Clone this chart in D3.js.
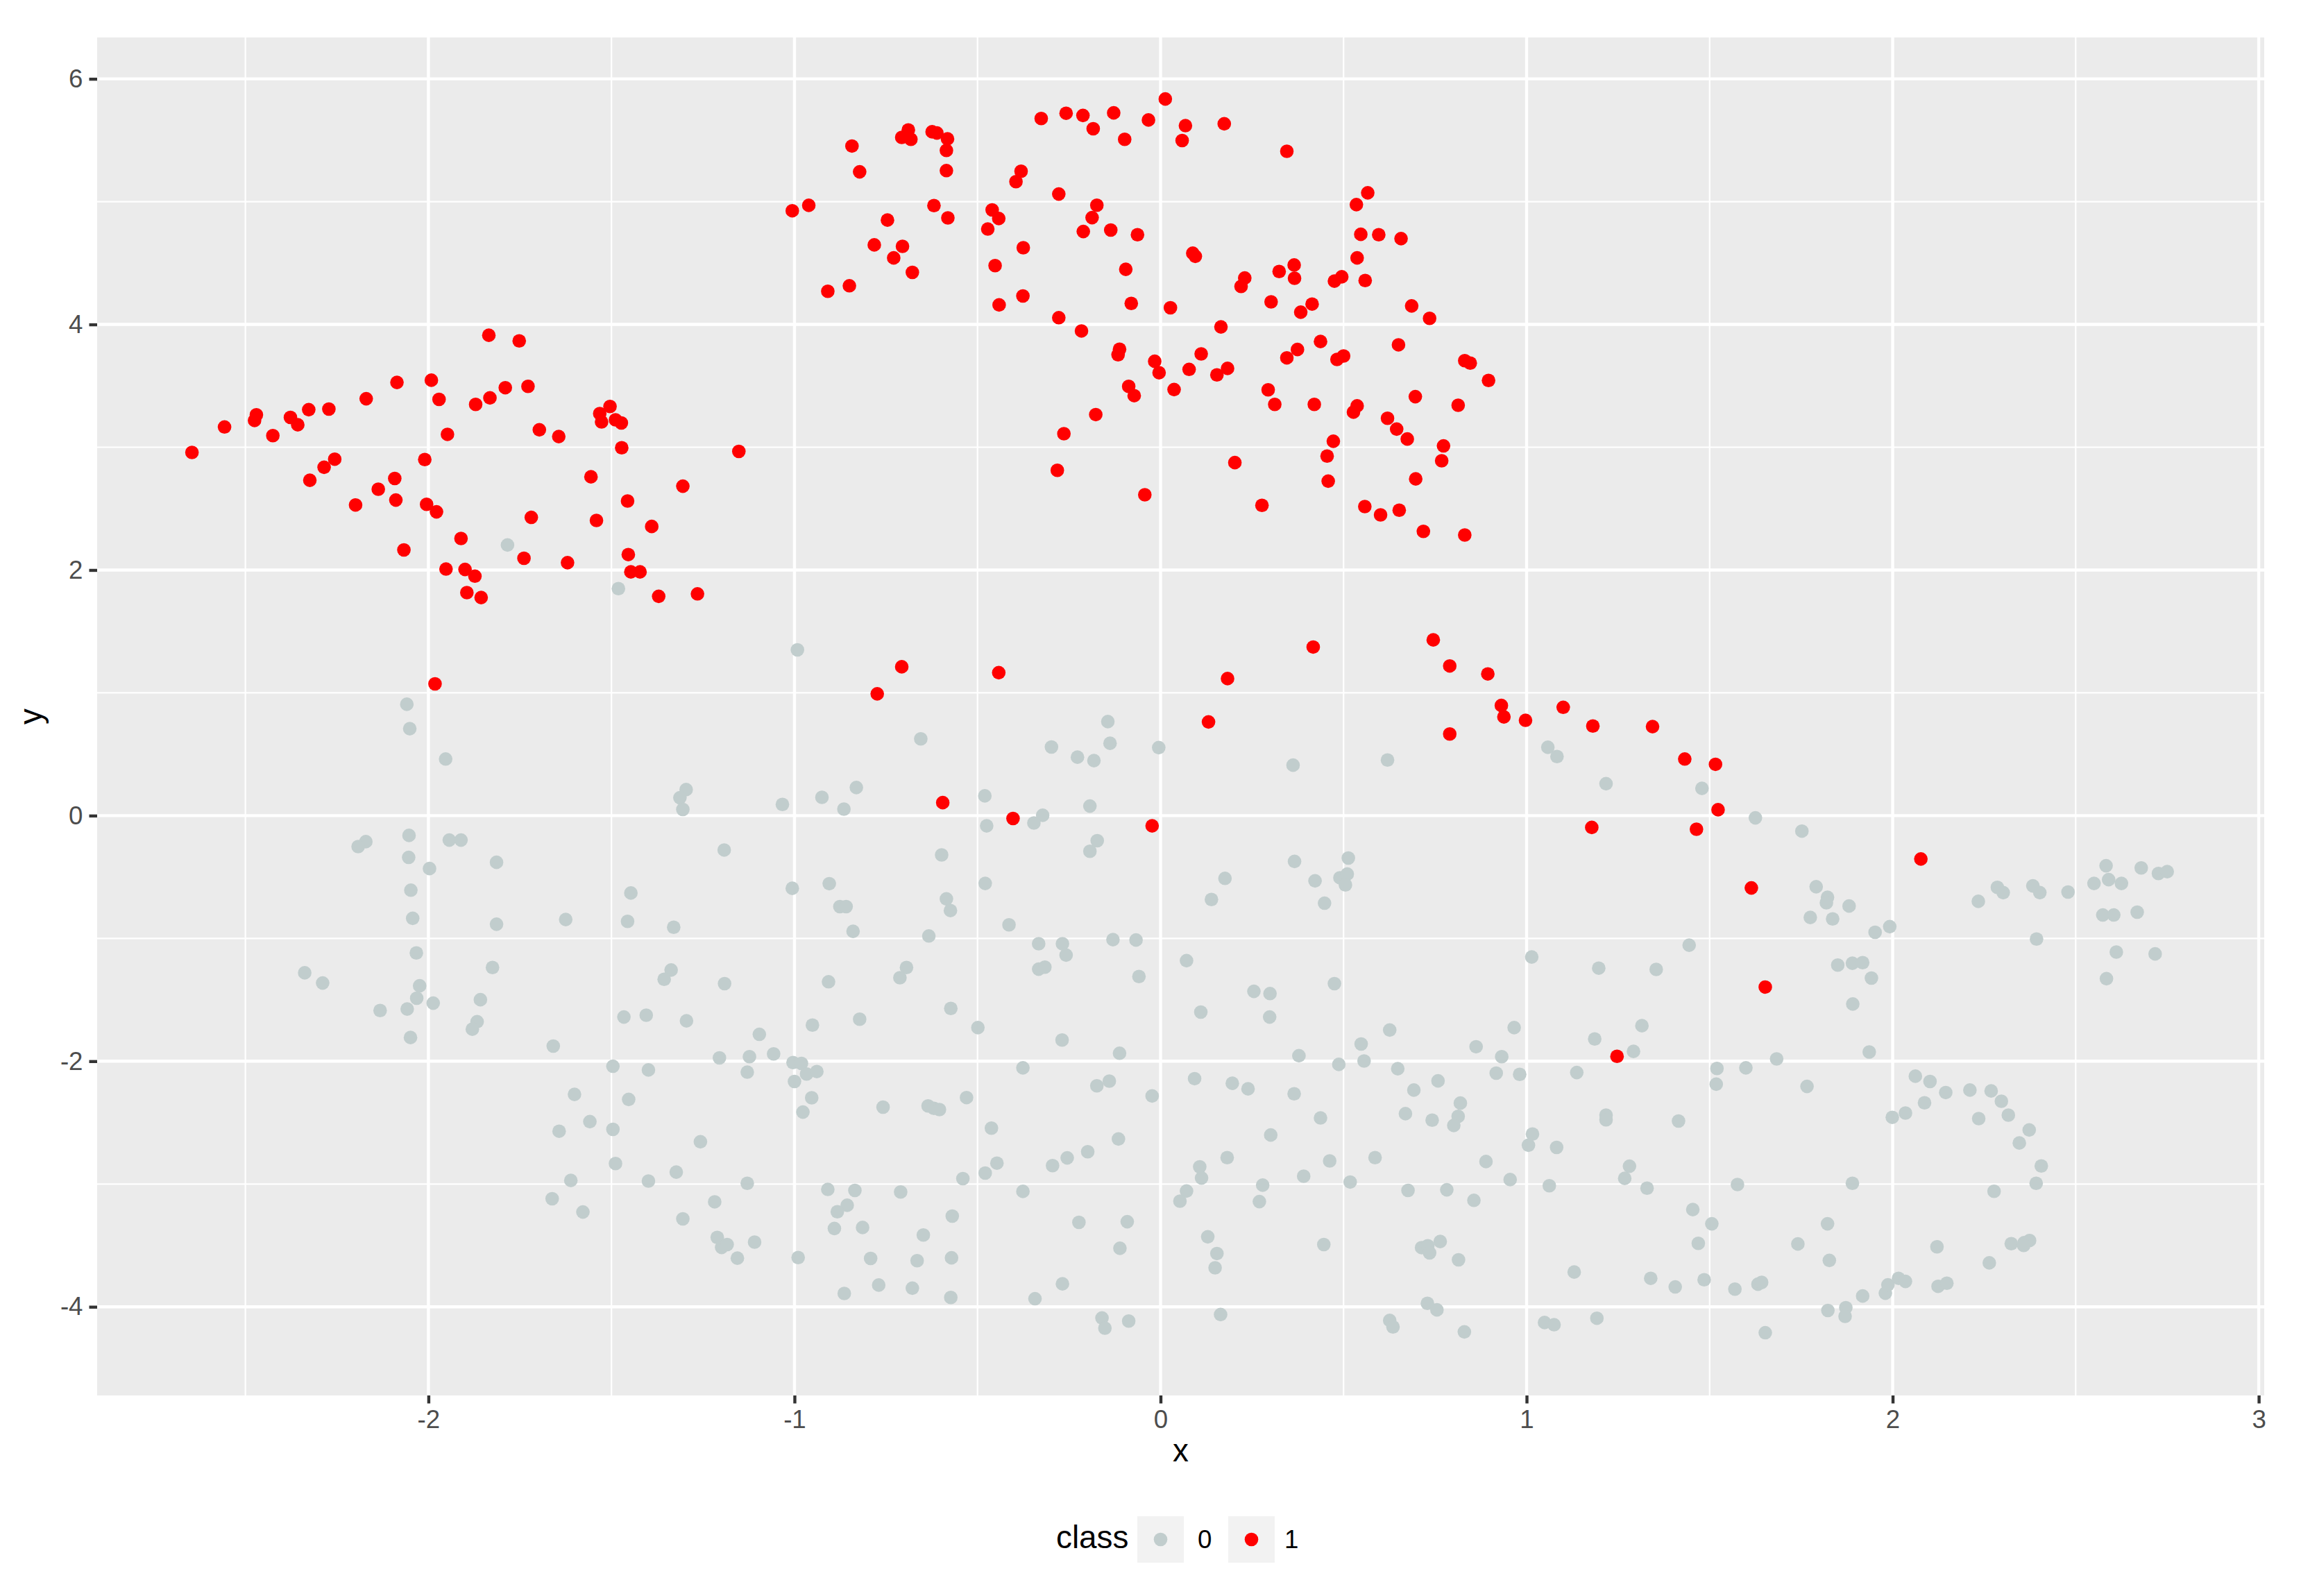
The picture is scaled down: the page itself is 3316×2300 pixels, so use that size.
<!DOCTYPE html>
<html><head><meta charset="utf-8">
<script src="https://cdn.jsdelivr.net/npm/d3@7"></script>
<style>html,body{margin:0;padding:0;background:#fff;} svg{display:block;font-family:"Liberation Sans",Arial,Helvetica,sans-serif;}</style>
</head><body><svg id="chart" width="3316" height="2300"></svg>
<script>
// ---- data ----
const xTicks = [-2, -1, 0, 1, 2, 3];
const yTicks = [-4, -2, 0, 2, 4, 6];
const xMinorTicks = [-2.5, -1.5, -0.5, 0.5, 1.5, 2.5];
const yMinorTicks = [-3, -1, 1, 3, 5];
const classes = ["0", "1"];
const classColors = ["#C1CDCD", "#FF0000"];

const class0Points = [
[-1.784,2.204],[-1.481,1.849],[-0.992,1.35],[-2.059,0.907],[-2.051,0.708],[-1.953,0.461],[-1.296,0.212],[-1.313,0.146],[-1.305,0.05],[-1.033,0.091],[-0.925,0.149],[-2.053,-0.161],[-2.171,-0.212],[-2.192,-0.252],[-1.943,-0.199],[-1.911,-0.199],[-2.054,-0.34],[-1.997,-0.431],[-1.814,-0.38],[-1.192,-0.28],[-2.048,-0.607],[-1.447,-0.63],[-1.006,-0.592],[-2.043,-0.836],[-1.814,-0.884],[-1.625,-0.846],[-1.456,-0.861],[-1.33,-0.909],
[-2.033,-1.118],[-1.825,-1.237],[-2.338,-1.28],[-2.289,-1.363],[-1.337,-1.257],[-1.356,-1.333],[-1.191,-1.368],[-2.024,-1.386],[-2.032,-1.487],[-1.987,-1.527],[-2.132,-1.587],[-2.058,-1.575],[-1.858,-1.499],[-1.867,-1.678],[-1.88,-1.739],[-2.049,-1.807],[-1.466,-1.64],[-1.405,-1.625],[-1.295,-1.671],[-0.951,-1.706],[-1.096,-1.781],[-1.659,-1.877],[-1.496,-2.041],[-1.399,-2.071],[-1.205,-1.973],[-1.123,-1.963],[-1.057,-1.94],[-1.129,-2.089],[-1.004,-2.011],[-0.981,-2.018],[-0.967,-2.104],[-0.939,-2.084],[-1.0,-2.165],[-1.601,-2.27],[-1.453,-2.311],[-0.953,-2.298],[-0.977,-2.414],[-1.559,-2.492],[-1.643,-2.57],[-1.496,-2.555],[-1.257,-2.656],[-1.489,-2.833],[-1.323,-2.903],[-1.611,-2.971],[-1.399,-2.976],[-1.129,-2.994],[-1.662,-3.12],[-1.578,-3.228],[-1.218,-3.145],[-1.305,-3.284],[-1.211,-3.435],[-1.199,-3.516],[-1.184,-3.493],[-1.109,-3.473],[-1.156,-3.604],[-0.99,-3.599],
[-0.144,0.766],[-0.655,0.625],[-0.298,0.559],[-0.138,0.589],[-0.005,0.554],[-0.227,0.476],[-0.182,0.448],[0.362,0.411],[0.62,0.453],[1.058,0.557],[1.083,0.481],[-0.831,0.229],[-0.865,0.053],[-0.48,0.161],[-0.193,0.078],[-0.322,0.003],[-0.346,-0.06],[-0.475,-0.083],[-0.173,-0.204],[-0.193,-0.29],[-0.598,-0.32],[-0.905,-0.554],[-0.479,-0.552],[-0.585,-0.678],[-0.574,-0.773],[-0.876,-0.741],[-0.859,-0.741],[-0.84,-0.942],[-0.633,-0.98],[-0.414,-0.889],[-0.333,-1.043],[-0.268,-1.043],[-0.258,-1.136],[-0.13,-1.01],[-0.067,-1.013],[0.071,-1.181],[0.366,-0.373],[0.513,-0.345],[0.176,-0.511],[0.422,-0.531],[0.49,-0.506],[0.51,-0.476],[0.505,-0.564],[0.139,-0.683],[0.448,-0.713],[1.014,-1.151],
[-0.694,-1.237],[-0.712,-1.32],[-0.907,-1.353],[-0.333,-1.25],[-0.316,-1.234],[-0.059,-1.31],[-0.573,-1.57],[-0.822,-1.658],[-0.499,-1.726],[-0.269,-1.827],[-0.112,-1.935],[0.255,-1.431],[0.299,-1.449],[0.11,-1.6],[0.298,-1.64],[0.475,-1.368],[0.626,-1.746],[0.548,-1.86],[0.556,-1.998],[0.378,-1.955],[0.487,-2.026],[0.648,-2.061],[0.966,-1.726],[0.862,-1.882],[0.932,-1.963],[0.917,-2.097],[0.981,-2.107],[-0.376,-2.054],[-0.758,-2.374],[-0.635,-2.364],[-0.619,-2.384],[-0.604,-2.394],[-0.53,-2.296],[-0.174,-2.2],[-0.14,-2.162],[-0.023,-2.283],[0.093,-2.142],[0.196,-2.18],[0.239,-2.225],[0.365,-2.265],[0.437,-2.462],[0.692,-2.235],[0.758,-2.16],[0.819,-2.341],[0.669,-2.427],[0.742,-2.48],[0.813,-2.449],[0.801,-2.523],[0.301,-2.601],[1.016,-2.593],[1.005,-2.684],[-0.462,-2.545],[-0.115,-2.633],[-0.199,-2.737],[-0.255,-2.787],[-0.295,-2.85],[-0.447,-2.83],[-0.479,-2.911],[-0.54,-2.956],[0.182,-2.785],[0.107,-2.86],[0.112,-2.951],[0.462,-2.812],[0.586,-2.785],[0.391,-2.936],[0.518,-2.984],[0.889,-2.817],[0.955,-2.964],[-0.909,-3.044],[-0.835,-3.052],[-0.71,-3.065],[-0.856,-3.173],[-0.883,-3.226],[-0.376,-3.06],[0.071,-3.057],[0.053,-3.14],[0.279,-3.009],[0.27,-3.143],[0.676,-3.052],[0.782,-3.047],[0.856,-3.133],[-0.569,-3.261],[-0.891,-3.362],[-0.814,-3.354],[-0.648,-3.415],[-0.223,-3.312],[-0.091,-3.307],[-0.111,-3.523],[0.129,-3.43],[0.154,-3.566],[0.149,-3.682],[0.446,-3.493],[0.713,-3.518],[0.73,-3.503],[0.735,-3.561],[0.764,-3.468],[0.814,-3.617],[-0.792,-3.606],[-0.665,-3.624],[-0.571,-3.601],[-0.864,-3.891],[-0.77,-3.823],[-0.678,-3.848],[-0.573,-3.924],[-0.268,-3.813],[-0.343,-3.934],[-0.16,-4.091],[-0.152,-4.174],[-0.087,-4.116],[0.164,-4.063],[0.729,-3.972],[0.755,-4.025],[0.626,-4.111],[0.635,-4.164],[0.83,-4.204],
[1.217,0.26],[1.479,0.222],[1.625,-0.018],[1.752,-0.126],[1.791,-0.579],[1.822,-0.665],[1.819,-0.71],[1.881,-0.736],[1.775,-0.829],[1.836,-0.841],[1.952,-0.95],[1.992,-0.904],[2.234,-0.698],[2.286,-0.584],[2.302,-0.627],[2.383,-0.572],[2.402,-0.627],[2.479,-0.622],[2.55,-0.552],[2.583,-0.408],[2.59,-0.521],[2.625,-0.552],[2.679,-0.426],[2.726,-0.471],[2.75,-0.456],[2.574,-0.809],[2.604,-0.809],[2.668,-0.786],[2.393,-1.005],[1.444,-1.055],
[2.611,-1.111],[2.717,-1.126],[1.197,-1.242],[1.354,-1.252],[1.85,-1.217],[1.89,-1.202],[1.918,-1.197],[1.942,-1.323],[2.584,-1.328],[1.891,-1.534],[1.315,-1.711],[1.186,-1.819],[1.292,-1.92],[1.936,-1.925],[1.683,-1.981],[1.137,-2.092],[1.52,-2.059],[1.518,-2.187],[1.599,-2.054],[1.766,-2.205],[1.217,-2.439],[1.217,-2.477],[1.415,-2.487],[2.062,-2.122],[2.102,-2.165],[2.145,-2.255],[2.211,-2.235],[2.269,-2.242],[2.297,-2.326],[2.087,-2.339],[2.035,-2.422],[1.999,-2.457],[2.235,-2.467],[2.316,-2.439],[2.373,-2.56],[2.346,-2.666],[2.406,-2.853],[2.392,-2.994],[2.277,-3.059],[1.082,-2.702],[1.281,-2.855],[1.268,-2.954],[1.062,-3.014],[1.329,-3.034],[1.576,-3.004],[1.89,-2.994],[1.454,-3.208],[1.506,-3.324],[1.469,-3.483],[1.822,-3.324],[1.741,-3.488],[1.827,-3.622],[2.121,-3.511],[2.324,-3.486],[2.359,-3.478],[2.374,-3.46],[2.358,-3.5],[2.264,-3.642],[1.13,-3.717],[1.339,-3.768],[1.406,-3.838],[1.485,-3.78],[1.569,-3.856],[1.632,-3.816],[1.642,-3.801],[1.918,-3.912],[1.98,-3.889],[1.987,-3.821],[2.016,-3.768],[2.035,-3.793],[2.124,-3.833],[2.148,-3.808],[1.823,-4.03],[1.872,-4.007],[1.87,-4.078],[1.049,-4.128],[1.075,-4.146],[1.192,-4.093],[1.652,-4.211]
];

const class1Points = [
[-1.006,4.926],[-0.961,4.97],
[-1.835,3.912],[-1.752,3.866],[-2.086,3.528],[-1.992,3.546],[-2.17,3.395],[-1.971,3.39],[-1.871,3.349],[-1.832,3.402],[-1.79,3.485],[-1.728,3.496],[-2.327,3.306],[-2.272,3.311],[-2.377,3.243],[-2.357,3.183],[-2.47,3.264],[-2.475,3.218],[-2.557,3.165],[-2.425,3.095],[-2.646,2.958],[-1.948,3.105],[-1.697,3.142],[-1.644,3.087],[-1.532,3.274],[-1.504,3.332],[-1.527,3.206],[-1.489,3.223],[-1.473,3.198],[-1.472,2.996],[-1.152,2.966],[-2.256,2.903],[-2.285,2.837],[-2.01,2.9],[-2.324,2.731],[-2.092,2.746],[-2.137,2.658],[-2.089,2.57],[-2.199,2.53],[-2.005,2.535],[-1.978,2.474],[-1.556,2.759],[-1.305,2.683],[-1.456,2.562],[-1.719,2.429],[-1.541,2.404],
[-1.39,2.355],[-1.911,2.257],[-2.067,2.164],[-1.739,2.096],[-1.62,2.06],[-1.454,2.126],[-1.952,2.008],[-1.9,2.005],[-1.873,1.95],[-1.895,1.816],[-1.856,1.776],[-1.447,1.985],[-1.422,1.985],[-1.371,1.786],[-1.265,1.806],[-1.982,1.073],
[0.013,5.836],[-0.326,5.677],[-0.258,5.72],[-0.212,5.702],[-0.128,5.723],[-0.033,5.665],[-0.184,5.594],[-0.098,5.508],[0.068,5.619],[0.059,5.498],[0.174,5.634],[0.345,5.41],[-0.843,5.453],[-0.822,5.243],[-0.689,5.584],[-0.707,5.523],[-0.682,5.508],[-0.624,5.569],[-0.611,5.559],[-0.582,5.511],[-0.585,5.417],[-0.585,5.253],[-0.381,5.248],[-0.395,5.163],[-0.278,5.062],[-0.619,4.968],[-0.581,4.868],[-0.746,4.85],[-0.782,4.648],[-0.705,4.636],[-0.729,4.542],[-0.678,4.424],[-0.85,4.315],[-0.909,4.27],[-0.46,4.933],[-0.442,4.863],[-0.472,4.777],[-0.174,4.971],[-0.187,4.87],[-0.211,4.757],[-0.136,4.769],[-0.063,4.731],[-0.375,4.625],[-0.452,4.479],[-0.376,4.232],[-0.441,4.159],[-0.095,4.449],[-0.08,4.171],[0.027,4.136],[-0.278,4.055],[-0.216,3.947],[0.088,4.58],[0.095,4.555],[0.535,4.976],[0.566,5.072],[0.547,4.734],[0.596,4.731],[0.657,4.699],[0.537,4.542],[0.559,4.358],[0.365,4.484],[0.366,4.376],[0.324,4.431],[0.22,4.31],[0.23,4.378],[0.475,4.353],[0.495,4.388],[0.302,4.184],[0.383,4.1],[0.414,4.166],[0.686,4.151],[0.735,4.05],[0.165,3.98],[-0.112,3.798],[-0.116,3.753],[-0.016,3.7],[-0.004,3.607],[0.078,3.634],[0.111,3.76],[0.154,3.589],[0.183,3.642],[0.345,3.728],[0.374,3.796],[0.437,3.861],[0.482,3.715],[0.5,3.743],[0.65,3.834],[0.831,3.705],[0.846,3.685],[0.896,3.544],[-0.087,3.496],[-0.072,3.42],[0.037,3.47],[0.294,3.468],[0.312,3.349],[0.42,3.349],[0.527,3.286],[0.537,3.337],[0.62,3.236],[0.645,3.148],[0.674,3.067],[0.696,3.412],[0.813,3.342],[0.773,3.011],[0.768,2.89],[0.697,2.742],[0.472,3.049],[0.455,2.928],[0.458,2.724],[-0.177,3.266],[-0.264,3.11],[-0.282,2.812],[-0.043,2.613],[0.203,2.875],[0.277,2.527],[0.558,2.517],[0.601,2.449],[0.652,2.487],
[0.718,2.315],[0.831,2.285],[-0.707,1.212],[-0.774,0.992],[-0.442,1.164],[0.417,1.373],[0.183,1.116],[0.131,0.763],[0.745,1.431],[0.79,1.219],[0.894,1.154],[0.931,0.897],[0.938,0.804],[0.997,0.776],[0.79,0.665],[-0.595,0.106],[-0.403,-0.023],[-0.023,-0.083],
[1.1,0.882],[1.181,0.73],[1.344,0.725],[1.432,0.461],[1.516,0.418],[1.523,0.048],[1.178,-0.096],[1.464,-0.111],[2.077,-0.353],[1.614,-0.589],
[1.652,-1.396],[1.247,-1.96]
];

// ---- layout ----
const panel = {left: 140, right: 3263, top: 54, bottom: 2011};
const svg = d3.select("#chart");
const x = d3.scaleLinear().domain([-2.905, 3.015]).range([panel.left, panel.right]);
const y = d3.scaleLinear().domain([-4.722, 6.337]).range([panel.bottom, panel.top]);
const color = d3.scaleOrdinal().domain(classes).range(classColors);
const R = 9.8;

svg.append("rect").attr("x", 0).attr("y", 0).attr("width", 3316).attr("height", 2300).attr("fill", "#ffffff");
svg.append("rect").attr("x", panel.left).attr("y", panel.top)
  .attr("width", panel.right - panel.left).attr("height", panel.bottom - panel.top).attr("fill", "#EBEBEB");

const grid = svg.append("g");
grid.selectAll(".vmin").data(xMinorTicks).join("line")
  .attr("x1", d => x(d)).attr("x2", d => x(d)).attr("y1", panel.top).attr("y2", panel.bottom)
  .attr("stroke", "#fff").attr("stroke-width", 2.2);
grid.selectAll(".hmin").data(yMinorTicks).join("line")
  .attr("y1", d => y(d)).attr("y2", d => y(d)).attr("x1", panel.left).attr("x2", panel.right)
  .attr("stroke", "#fff").attr("stroke-width", 2.2);
grid.selectAll(".vmaj").data(xTicks).join("line")
  .attr("x1", d => x(d)).attr("x2", d => x(d)).attr("y1", panel.top).attr("y2", panel.bottom)
  .attr("stroke", "#fff").attr("stroke-width", 4.4);
grid.selectAll(".hmaj").data(yTicks).join("line")
  .attr("y1", d => y(d)).attr("y2", d => y(d)).attr("x1", panel.left).attr("x2", panel.right)
  .attr("stroke", "#fff").attr("stroke-width", 4.4);

// points
const pts = svg.append("g");
pts.selectAll(".p0").data(class0Points).join("circle")
  .attr("cx", d => x(d[0])).attr("cy", d => y(d[1])).attr("r", R).attr("fill", color("0"));
pts.selectAll(".p1").data(class1Points).join("circle")
  .attr("cx", d => x(d[0])).attr("cy", d => y(d[1])).attr("r", R).attr("fill", color("1"));

// axes
function styleAxis(g) {
  g.select(".domain").remove();
  g.selectAll(".tick line").attr("stroke", "#333333").attr("stroke-width", 4.4);
  g.selectAll(".tick text").attr("fill", "#4D4D4D").style("font-size", "36.7px")
    .style("font-family", '"Liberation Sans",Arial,Helvetica,sans-serif');
}
svg.append("g").attr("transform", `translate(0,${panel.bottom})`)
  .call(d3.axisBottom(x).tickValues(xTicks).tickFormat(d => String(d)).tickSize(11.5).tickPadding(9))
  .call(styleAxis);
svg.append("g").attr("transform", `translate(${panel.left},0)`)
  .call(d3.axisLeft(y).tickValues(yTicks).tickFormat(d => String(d)).tickSize(11.5).tickPadding(9))
  .call(styleAxis);

// axis titles
svg.append("text").attr("x", (panel.left + panel.right) / 2).attr("y", 2106)
  .attr("text-anchor", "middle").style("font-size", "45.8px").attr("fill", "#000").text("x");
svg.append("text").attr("transform", `translate(60,${(panel.top + panel.bottom) / 2}) rotate(-90)`)
  .attr("text-anchor", "middle").style("font-size", "45.8px").attr("fill", "#000").text("y");

// legend
const leg = svg.append("g");
leg.append("text").attr("x", 1522).attr("y", 2231).style("font-size", "45.8px").attr("fill", "#000").text("class");
const keyX = [1639, 1770];
const labelX = [1726, 1851];
classes.forEach((c, i) => {
  leg.append("rect").attr("x", keyX[i]).attr("y", 2185).attr("width", 67).attr("height", 67).attr("fill", "#F2F2F2");
  leg.append("circle").attr("cx", keyX[i] + 33.5).attr("cy", 2218.5).attr("r", R).attr("fill", color(c));
  leg.append("text").attr("x", labelX[i]).attr("y", 2231).style("font-size", "36.7px").attr("fill", "#000").text(c);
});
</script>
</body></html>
